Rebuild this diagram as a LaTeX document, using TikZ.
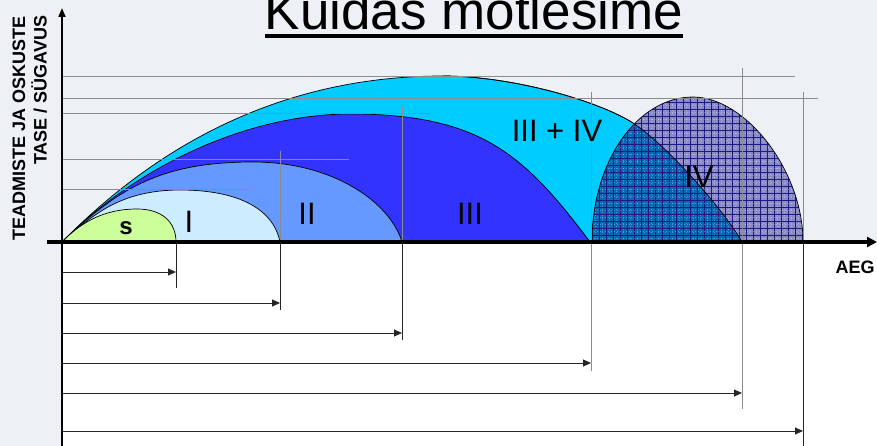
\documentclass[tikz,border=0pt]{standalone}
\usepackage{fontspec}
\setmainfont{Liberation Sans}
\usetikzlibrary{arrows.meta}
\definecolor{bgc}{HTML}{EDF0F5}
\definecolor{cyanc}{HTML}{00CCFF}
\definecolor{threec}{HTML}{3333FF}
\definecolor{twoc}{HTML}{6699FF}
\definecolor{onec}{HTML}{CCECFF}
\definecolor{sc}{HTML}{CCFF99}
\definecolor{lavc}{HTML}{8A8AC6}
\definecolor{ivdark}{HTML}{0868B4}
\definecolor{gridc}{HTML}{1A1A80}
\definecolor{guidegray}{HTML}{8C8C8C}
\tikzset{
  outl/.style={draw=black, line width=0.7pt},
  guide/.style={draw=guidegray, line width=0.9pt},
  lowline/.style={draw=black!85, line width=0.9pt},
  measarrow/.style={draw=black!85, line width=0.9pt, -{Triangle[length=8pt,width=7pt]}},
  lbl/.style={font=\fontsize{31}{31}\selectfont, inner sep=0pt, anchor=base},
  boldlbl/.style={font=\fontsize{18}{18}\selectfont\bfseries, inner sep=0pt, anchor=base},
  gridline/.style={draw=gridc, line width=0.5pt},
  dotline/.style={draw=white, line width=0.4pt, opacity=0.3, dash pattern=on 0.7pt off 2.2pt},
}
\begin{document}
\begin{tikzpicture}[x=1pt,y=-1pt]
\useasboundingbox (0,0) rectangle (877,446);
\fill[bgc] (0,0) rectangle (877,446);
\fill[white] (62,242) rectangle (877,446);

% III + IV (cyan)
\filldraw[fill=cyanc, outl] (62,242) .. controls (167,135.5) and (293,76) .. (443,76)
  .. controls (513,76) and (599.4,101.4) .. (633,123)
  .. controls (664,143) and (722,207) .. (742,242) -- cycle;
% III
\filldraw[fill=threec, outl] (62,242) .. controls (139,164) and (250,114) .. (350,114)
  .. controls (480,114) and (524,154) .. (590,242) -- cycle;
% II
\filldraw[fill=twoc, outl] (62,242) .. controls (119.6,186.8) and (163,162) .. (253,162)
  .. controls (333,162) and (390,202) .. (402,242) -- cycle;
% I
\filldraw[fill=onec, outl] (62,242) .. controls (92,215.6) and (120,190) .. (180,190)
  .. controls (235,190) and (273,207) .. (280,242) -- cycle;
% s
\filldraw[fill=sc, outl] (62,242) .. controls (79.5,224) and (102,209) .. (137,209)
  .. controls (162,209) and (176,222) .. (176,242) -- cycle;

% IV
\fill[lavc] (592,242) .. controls (592,162) and (637,97) .. (693,97)
  .. controls (745,97) and (803,170) .. (803,242) -- cycle;
\begin{scope}
  \clip (592,242) .. controls (592,162) and (637,97) .. (693,97)
    .. controls (745,97) and (803,170) .. (803,242) -- cycle;
  \fill[ivdark] (62,242) .. controls (167,135.5) and (293,76) .. (443,76)
    .. controls (513,76) and (599.4,101.4) .. (633,123)
    .. controls (664,143) and (722,207) .. (742,242) -- cycle;
  \foreach \i in {0,...,31} {
    \draw[gridline] ({592+\i*7},90) -- ({592+\i*7},250);
    \draw[dotline] ({595.5+\i*7},90) -- ({595.5+\i*7},250);
  }
  \foreach \j in {0,...,22} {
    \draw[gridline] (585,{242-\j*7}) -- (810,{242-\j*7});
    \draw[dotline] (585,{238.5-\j*7}) -- (810,{238.5-\j*7});
  }
\end{scope}
\draw[outl] (592,242) .. controls (592,162) and (637,97) .. (693,97)
  .. controls (745,97) and (803,170) .. (803,242);
\draw[outl] (443,76) .. controls (513,76) and (599.4,101.4) .. (633,123)
  .. controls (664,143) and (722,207) .. (742,242);

% horizontal guide lines
\draw[guide] (62,76) -- (795,76);
\draw[guide] (62,98) -- (818,98);
\draw[guide] (62,113) -- (432,113);
\draw[guide] (62,159) -- (349,159);
\draw[guide] (62,189) -- (250,189);

% vertical guide lines
\draw[guide] (280,151) -- (280,242);
\draw[guide] (402,106) -- (402,242);
\draw[guide] (591,92) -- (591,371);
\draw[guide] (742,68) -- (742,409);
\draw[guide] (803,92) -- (803,242);
\draw[lowline] (176,242) -- (176,288);
\draw[lowline] (280,242) -- (280,310);
\draw[lowline] (402,242) -- (402,340);
\draw[lowline] (803,242) -- (803,446);

% measuring arrows
\foreach \n/\yy/\xx in {1/272/176, 2/303/280, 3/333/402, 4/363/591, 5/393/742, 6/431/803} {
  \coordinate (as\n) at (62,\yy);
  \coordinate (ae\n) at (\xx,\yy);
  \draw[measarrow] (as\n) -- (ae\n);
}

% axes
\coordinate (ytop) at (62,8);
\coordinate (ybot) at (62,446);
\coordinate (xleft) at (47,242);
\coordinate (xright) at (877,242);
\draw[line width=2pt, -{Triangle[length=9pt,width=7pt]}] (ybot) -- (ytop);
\draw[line width=4pt, -{Triangle[length=10pt,width=10pt]}] (xleft) -- (xright);

% labels
\node[inner sep=0pt, anchor=base, font=\fontsize{24}{24}\selectfont\bfseries] (ls) at (126,234) {s};
\node[lbl] (lI) at (189,232.7) {I};
\node[lbl] (lII) at (307,225) {II};
\node[lbl] (lIII) at (470,225) {III};
\node[lbl] (lIIIIV) at (557,142) {III + IV};
\node[lbl] (lIV) at (699,188) {IV};
\node[boldlbl] (aeg) at (855,273) {AEG};
\node[boldlbl, rotate=90] (yl1) at (25,128) {TEADMISTE JA OSKUSTE};
\node[boldlbl, rotate=90] (yl2) at (46.7,90) {TASE / SÜGAVUS};

% title
\node[inner sep=0pt, anchor=base, font=\fontsize{53}{53}\selectfont] (title) at (474,29.5) {Kuidas mõtlesime};
\draw[line width=4pt] ([yshift=-7pt]title.base west) -- ([yshift=-7pt]title.base east);
\end{tikzpicture}
\end{document}
